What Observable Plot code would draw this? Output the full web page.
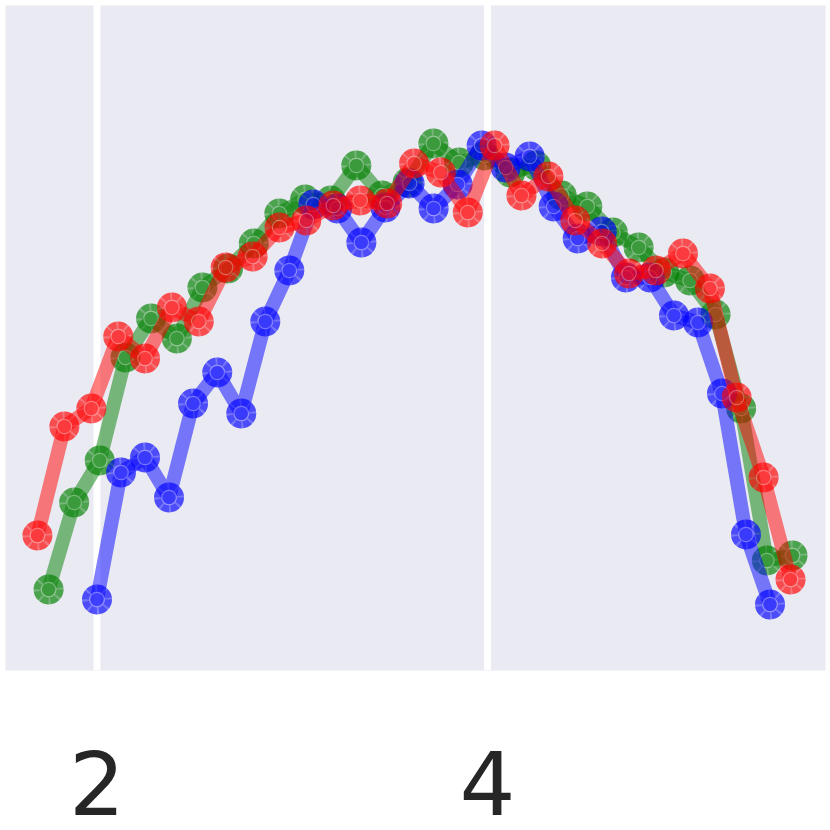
<!DOCTYPE html>
<html>
<head>
<meta charset="utf-8">
<script src="https://cdn.jsdelivr.net/npm/d3@7"></script>
<script src="https://cdn.jsdelivr.net/npm/@observablehq/plot@0.6"></script>
<style>
  html, body { margin: 0; padding: 0; background: #ffffff; }
</style>
</head>
<body>
<div id="chart"></div>
<script>
// Tick labels
const xTicks = [2, 4];

// Green series
const greenX = [1.752, 1.883, 2.014, 2.146, 2.277, 2.409, 2.540, 2.671, 2.803, 2.934, 3.066, 3.197, 3.328, 3.460, 3.591, 3.723, 3.854, 3.985, 4.117, 4.248, 4.380, 4.511, 4.642, 4.774, 4.905, 5.037, 5.168, 5.299, 5.431, 5.562];
const greenY = [81, 168, 210, 313, 352, 332, 383, 402, 427, 457, 471, 470, 505, 475, 488, 527, 508, 515, 498, 505, 475, 464, 438, 423, 398, 390, 356, 262, 110, 115];

// Blue series
const blueX = [2.000, 2.123, 2.246, 2.369, 2.492, 2.616, 2.739, 2.862, 2.985, 3.108, 3.231, 3.354, 3.477, 3.601, 3.724, 3.847, 3.970, 4.093, 4.216, 4.339, 4.462, 4.585, 4.709, 4.832, 4.955, 5.078, 5.201, 5.324, 5.447];
const blueY = [71, 198, 213, 173, 267, 298, 257, 349, 400, 466, 462, 428, 463, 487, 462, 486, 525, 503, 514, 464, 432, 439, 393, 393, 355, 348, 277, 136, 66];

// Red series
const redX = [1.695, 1.833, 1.971, 2.109, 2.246, 2.384, 2.521, 2.659, 2.797, 2.935, 3.072, 3.210, 3.348, 3.486, 3.624, 3.761, 3.899, 4.036, 4.174, 4.312, 4.450, 4.587, 4.725, 4.863, 5.001, 5.139, 5.276, 5.414, 5.552];
const redY = [135, 244, 262, 334, 312, 363, 349, 403, 414, 443, 450, 465, 470, 467, 507, 498, 458, 525, 475, 494, 450, 427, 397, 400, 417, 382, 273, 193, 91];

const series = [
  {color: "#008000", xs: greenX, ys: greenY},
  {color: "#0000ff", xs: blueX, ys: blueY},
  {color: "#ff0000", xs: redX, ys: redY}
];

const marks = [
  Plot.frame({fill: "#EAEAF2", stroke: null}),
  Plot.ruleX(xTicks, {stroke: "#ffffff", strokeWidth: 7}),
  Plot.axisX({ticks: xTicks, tickSize: 0, tickPadding: 82, fontSize: 88, label: null, tickFormat: d => String(d)})
];

for (const s of series) {
  const data = s.xs.map((x, i) => ({x, y: s.ys[i]}));
  marks.push(
    Plot.line(data, {x: "x", y: "y", stroke: s.color, strokeWidth: 14, strokeOpacity: 0.5, strokeLinejoin: "round", curve: "linear"}),
    Plot.dot(data, {x: "x", y: "y", r: 15, fill: s.color, fillOpacity: 0.5, stroke: null}),
    Plot.dot(data, {x: "x", y: "y", r: 11.5, fill: "none", stroke: s.color, strokeWidth: 7, strokeOpacity: 0.35, strokeDasharray: "7,2"}),
    Plot.dot(data, {x: "x", y: "y", r: 7.2, fill: "none", stroke: "#ffffff", strokeWidth: 1.2, strokeOpacity: 0.3})
  );
}

const chart = Plot.plot({
  width: 830,
  height: 830,
  marginLeft: 5,
  marginRight: 5,
  marginTop: 5,
  marginBottom: 160,
  x: {domain: [1.5314, 5.7311], axis: null},
  y: {domain: [0, 665], axis: null},
  style: {background: "#ffffff", color: "#262626", fontFamily: "DejaVu Sans"},
  marks
});
document.getElementById("chart").appendChild(chart);
</script>
</body>
</html>
